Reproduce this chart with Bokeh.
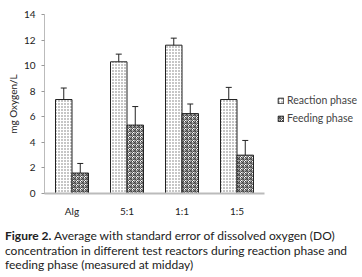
from bokeh.plotting import figure
from bokeh.models import (ColumnDataSource, Range1d, Whisker, TeeHead, Legend, LegendItem, Div,
                          FixedTicker)
from bokeh.layouts import column
from bokeh.transform import dodge
from bokeh.embed import file_html
from bokeh.resources import INLINE

categories = ["Alg", "5:1", "1:1", "1:5"]
reaction = [7.35, 10.3, 11.6, 7.35]
reaction_err = [0.9, 0.6, 0.55, 0.95]
feeding = [1.6, 5.35, 6.25, 3.0]
feeding_err = [0.75, 1.45, 0.75, 1.15]
yticks = [0, 2, 4, 6, 8, 10, 12, 14]
series_names = ["Reaction phase", "Feeding phase"]
caption_bold = "Figure 2."
caption_text = ("Average with standard error of dissolved oxygen (DO) concentration in different "
                "test reactors during reaction phase and feeding phase (measured at midday)")

# category slot centres (one slot per category)
xpos = [i + 0.5 for i in range(len(categories))]

src = ColumnDataSource(dict(
    x=xpos,
    r=reaction,
    r_up=[v + e for v, e in zip(reaction, reaction_err)],
    r_lo=[v - e for v, e in zip(reaction, reaction_err)],
    f=feeding,
    f_up=[v + e for v, e in zip(feeding, feeding_err)],
    f_lo=[v - e for v, e in zip(feeding, feeding_err)],
))

FONT = "Lato"
FRAME_W = 318  # frame spans to right edge so legend fits inside
SLOT = 55.0

p = figure(width=362, height=222, x_range=Range1d(0, FRAME_W / SLOT),
           y_range=Range1d(0, 14), output_backend="svg", toolbar_location=None,
           min_border_left=44, min_border_right=0, min_border_top=14, min_border_bottom=29)
p.outline_line_color = None
p.grid.grid_line_color = None
p.background_fill_color = "white"
p.border_fill_color = "white"

rb = p.vbar(x=dodge("x", -0.15), top="r", width=0.3, source=src,
            fill_color="white", line_color="#222222", line_width=1,
            hatch_pattern="dot", hatch_color="#707070", hatch_scale=3, hatch_weight=1)
fb = p.vbar(x=dodge("x", 0.15), top="f", width=0.3, source=src,
            fill_color="white", line_color="#222222", line_width=1,
            hatch_pattern="criss_cross", hatch_color="#444444", hatch_scale=4, hatch_weight=1)

for base, up, lo in [(dodge("x", -0.15), "r_up", "r_lo"),
                     (dodge("x", 0.15), "f_up", "f_lo")]:
    w = Whisker(source=src, base=base, upper=up, lower=lo, line_color="#222222", line_width=1,
                upper_head=TeeHead(size=6, line_color="#222222", line_width=1),
                lower_head=TeeHead(size=6, line_color="#222222", line_width=1))
    p.add_layout(w)

p.yaxis.ticker = yticks
p.yaxis.axis_line_color = "#bbbbbb"
p.yaxis.major_tick_line_color = "#999999"
p.yaxis.major_tick_out = 3
p.yaxis.major_tick_in = 0
p.yaxis.minor_tick_line_color = None
p.yaxis.major_label_text_font = FONT
p.yaxis.major_label_text_font_size = "10px"
p.yaxis.major_label_text_color = "#222222"
p.yaxis.major_label_standoff = 6
p.yaxis.axis_label = "mg Oxygen/L"
p.yaxis.axis_label_text_font = FONT
p.yaxis.axis_label_text_font_size = "10px"
p.yaxis.axis_label_text_font_style = "normal"
p.yaxis.axis_label_text_color = "#222222"
p.yaxis.axis_label_standoff = 2

p.xaxis.ticker = FixedTicker(ticks=xpos)
p.xaxis.major_label_overrides = {x: c for x, c in zip(xpos, categories)}
p.xaxis.bounds = (0, len(categories))
p.xaxis.axis_line_color = "#bbbbbb"
p.xaxis.axis_line_width = 2
p.xaxis.major_tick_line_color = None
p.xaxis.minor_tick_line_color = None
p.xaxis.major_label_text_font = FONT
p.xaxis.major_label_text_font_size = "10px"
p.xaxis.major_label_text_color = "#222222"
p.xaxis.major_label_standoff = 5

legend = Legend(items=[LegendItem(label=series_names[0], renderers=[rb]),
                       LegendItem(label=series_names[1], renderers=[fb])],
                location=(233, 69), glyph_width=7, glyph_height=7, label_text_font=FONT,
                label_text_font_size="10.5px", label_standoff=3, spacing=6,
                border_line_color=None, background_fill_alpha=0, padding=0, margin=0,
                label_height=10)
p.add_layout(legend, "center")

cap = Div(text=f"<b>{caption_bold}</b> {caption_text}", width=352, height=48,
          margin=(7, 0, 0, 5),
          styles={"font-family": FONT, "font-size": "12px", "line-height": "14.7px",
                  "color": "#222222"})

layout = column(p, cap, spacing=0)
open("out.html", "w").write(file_html(layout, INLINE))
